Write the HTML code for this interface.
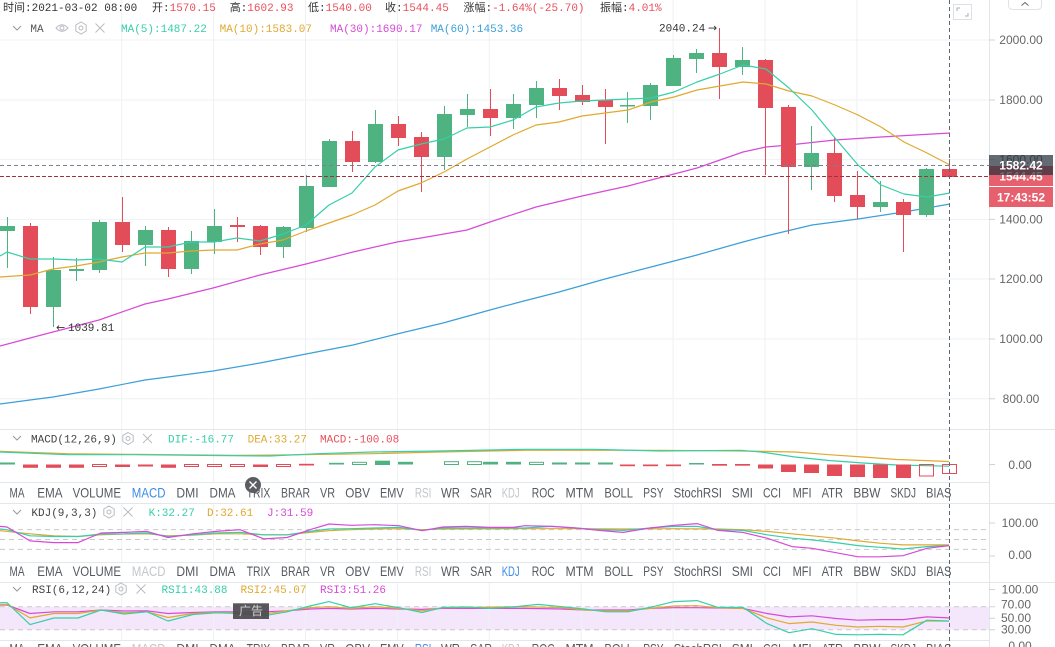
<!DOCTYPE html>
<html><head><meta charset="utf-8">
<style>
html,body{margin:0;padding:0;background:#fff;width:1055px;height:647px;overflow:hidden}
svg{display:block}
.m{font-family:"Liberation Mono","Noto Sans CJK SC",monospace;font-size:11px}
.s{font-family:"Liberation Sans","Noto Sans CJK SC",sans-serif}
.ax{font-family:"Liberation Sans",sans-serif;font-size:12px;fill:#666;text-anchor:middle}
.tb{font-family:"Liberation Sans",sans-serif;font-size:14px;fill:#555a60}
.tg{fill:#c3c6ca}
.tbl{fill:#3d8be8}
.ar{font-family:"DejaVu Sans",sans-serif;font-size:11px;fill:#333}
</style></head>
<body>
<svg width="1055" height="647" viewBox="0 0 1055 647" xmlns="http://www.w3.org/2000/svg">
<rect width="1055" height="647" fill="#fff"/>

<!-- RSI fill -->
<rect x="0" y="606.7" width="989" height="23" fill="#f4e7fc"/>

<!-- grid main -->
<g stroke="#eef1f4" stroke-width="1">
<line x1="0" y1="40" x2="989" y2="40"/>
<line x1="0" y1="100" x2="989" y2="100"/>
<line x1="0" y1="159.6" x2="989" y2="159.6"/>
<line x1="0" y1="219.4" x2="989" y2="219.4"/>
<line x1="0" y1="279" x2="989" y2="279"/>
<line x1="0" y1="339" x2="989" y2="339"/>
<line x1="0" y1="398.8" x2="989" y2="398.8"/>
</g>
<g stroke="#eef1f4" stroke-width="1">
<path d="M121.7 0V429M213.6 0V429M305.5 0V429M397.4 0V429M489.3 0V429M581.2 0V429M673.1 0V429M765 0V429M856.9 0V429"/>
<path d="M121.7 429V482M213.6 429V482M305.5 429V482M397.4 429V482M489.3 429V482M581.2 429V482M673.1 429V482M765 429V482M856.9 429V482"/>
<path d="M121.7 503V562M213.6 503V562M305.5 503V562M397.4 503V562M489.3 503V562M581.2 503V562M673.1 503V562M765 503V562M856.9 503V562"/>
<path d="M121.7 582V640M213.6 582V640M305.5 582V640M397.4 582V640M489.3 582V640M581.2 582V640M673.1 582V640M765 582V640M856.9 582V640"/>
</g>

<!-- separators -->
<g stroke="#e4e7ea" stroke-width="1">
<line x1="0" y1="429.5" x2="1055" y2="429.5"/>
<line x1="0" y1="482.5" x2="989" y2="482.5"/>
<line x1="0" y1="503.5" x2="1055" y2="503.5"/>
<line x1="0" y1="562.5" x2="989" y2="562.5"/>
<line x1="0" y1="582.5" x2="1055" y2="582.5"/>
<line x1="0" y1="640.5" x2="989" y2="640.5"/>
</g>

<!-- dashed level lines KDJ / RSI -->
<g stroke="#c9c9c9" stroke-width="1" stroke-dasharray="5,4">
<line x1="0" y1="529.6" x2="989" y2="529.6"/>
<line x1="0" y1="539.5" x2="989" y2="539.5"/>
<line x1="0" y1="549.4" x2="989" y2="549.4"/>
<line x1="0" y1="606.7" x2="989" y2="606.7"/>
<line x1="0" y1="629.7" x2="989" y2="629.7"/>
</g>

<!-- MA lines -->
<g fill="none" stroke-width="1.2" stroke-linejoin="round">
<polyline stroke="#3ba0d8" points="0,404 30,400 53,397 99,389 145,380 168,377 213,371 260,363 306,354 353,345 397,334 443,323 490,310 520,302 559,292 605,279 651,267 697,255 743,242 766,236 812,225 858,219 904,212 950,204"/>
<polyline stroke="#d64bd6" points="0,346 30,338 53,332 99,320 145,304 168,299 213,288 260,275 306,264 353,252 397,242 421,238 444,234 467,230 490,222 536,207 582,196 628,186 651,180 697,168 743,152 766,147 789,145 835,140 881,137 950,133"/>
</g>

<!-- candles -->
<g fill="#4eb281">
<rect x="7" y="217" width="1" height="51"/><rect x="0" y="226" width="15" height="5"/>
<rect x="53" y="257" width="1" height="70"/><rect x="46" y="270" width="15" height="37"/>
<rect x="76" y="258" width="1" height="23"/><rect x="69" y="269" width="15" height="2"/>
<rect x="99" y="220" width="1" height="53"/><rect x="92" y="222" width="15" height="48"/>
<rect x="145" y="226" width="1" height="40"/><rect x="138" y="230" width="15" height="15"/>
<rect x="191" y="231" width="1" height="43"/><rect x="184" y="241" width="15" height="28"/>
<rect x="214" y="209" width="1" height="45"/><rect x="207" y="226" width="15" height="16"/>
<rect x="283" y="226" width="1" height="32"/><rect x="276" y="227" width="15" height="20"/>
<rect x="306" y="175" width="1" height="57"/><rect x="299" y="186" width="15" height="42"/>
<rect x="329" y="139" width="1" height="48"/><rect x="322" y="141" width="15" height="46"/>
<rect x="375" y="110" width="1" height="53"/><rect x="368" y="124" width="15" height="38"/>
<rect x="444" y="106" width="1" height="64"/><rect x="437" y="114" width="15" height="43"/>
<rect x="467" y="94" width="1" height="33"/><rect x="460" y="109" width="15" height="6"/>
<rect x="513" y="94" width="1" height="35"/><rect x="506" y="104" width="15" height="14"/>
<rect x="536" y="81" width="1" height="37"/><rect x="529" y="88" width="15" height="17"/>
<rect x="627" y="92" width="1" height="31"/><rect x="620" y="105" width="15" height="1.5"/>
<rect x="650" y="83" width="1" height="37"/><rect x="643" y="85" width="15" height="21"/>
<rect x="673" y="55" width="1" height="31"/><rect x="666" y="58" width="15" height="28"/>
<rect x="696" y="49" width="1" height="24"/><rect x="689" y="53" width="15" height="6"/>
<rect x="742" y="47" width="1" height="28"/><rect x="735" y="60" width="15" height="7"/>
<rect x="811" y="126" width="1" height="64"/><rect x="804" y="153" width="15" height="14"/>
<rect x="880" y="181" width="1" height="31"/><rect x="873" y="202" width="15" height="5"/>
<rect x="926" y="168" width="1" height="49"/><rect x="919" y="169" width="15" height="46"/>
</g>
<g fill="#e34d59">
<rect x="30" y="223" width="1" height="91"/><rect x="23" y="226" width="15" height="81"/>
<rect x="122" y="197" width="1" height="55"/><rect x="115" y="222" width="15" height="23"/>
<rect x="168" y="227" width="1" height="50"/><rect x="161" y="230" width="15" height="39"/>
<rect x="237" y="217" width="1" height="25"/><rect x="230" y="225" width="15" height="2"/>
<rect x="260" y="225" width="1" height="30"/><rect x="253" y="226" width="15" height="21"/>
<rect x="352" y="131" width="1" height="41"/><rect x="345" y="141" width="15" height="21"/>
<rect x="398" y="116" width="1" height="30"/><rect x="391" y="124" width="15" height="14"/>
<rect x="421" y="132" width="1" height="60"/><rect x="414" y="137" width="15" height="20"/>
<rect x="490" y="89" width="1" height="47"/><rect x="483" y="109" width="15" height="9"/>
<rect x="559" y="79" width="1" height="31"/><rect x="552" y="88" width="15" height="8"/>
<rect x="582" y="85" width="1" height="20"/><rect x="575" y="95" width="15" height="7"/>
<rect x="605" y="89" width="1" height="55"/><rect x="598" y="100" width="15" height="7"/>
<rect x="719" y="28" width="1" height="71"/><rect x="712" y="53" width="15" height="14"/>
<rect x="765" y="59" width="1" height="116"/><rect x="758" y="60" width="15" height="48"/>
<rect x="788" y="105" width="1" height="129"/><rect x="781" y="107" width="15" height="60"/>
<rect x="834" y="138" width="1" height="64"/><rect x="827" y="153" width="15" height="43"/>
<rect x="857" y="171" width="1" height="48"/><rect x="850" y="195" width="15" height="12"/>
<rect x="903" y="199" width="1" height="53"/><rect x="896" y="202" width="15" height="13"/>
<rect x="949" y="159" width="1" height="19"/><rect x="942" y="169" width="15" height="8"/>
</g>

<g fill="none" stroke-width="1.2" stroke-linejoin="round">
<polyline stroke="#e0a930" points="0,277 30,275 53,269 76,266 99,262 122,257 145,253 168,253 191,251 214,250 237,250 260,244 283,240 306,231 329,223 352,215 375,205 398,191 421,183 444,172 467,159 490,147 513,135 536,125 559,122 582,116 605,113 628,110 651,102 674,97 697,90 720,86 743,82 766,84 789,91 812,96 835,105 858,115 881,127 904,142 927,153 950,165"/>
<polyline stroke="#36cfa9" points="0,256 7,252 30,259 53,259 76,260 99,259 122,262 145,247 168,247 191,242 214,242 237,238 260,241 283,234 306,225 329,205 352,193 375,167 398,150 421,144 444,139 467,128 490,127 513,120 536,107 559,103 582,101 605,100 628,99 651,98 674,92 697,82 720,74 743,65 766,69 789,88 812,110 835,138 858,165 881,185 904,194 927,197 950,193"/>
</g>

<!-- high/low labels -->
<text class="ar" x="56" y="331">←</text>
<text class="m" x="68" y="331" fill="#333">1039.81</text>
<text class="m" x="659" y="31.5" fill="#333">2040.24</text>
<text class="ar" x="708" y="31.5">→</text>

<!-- crosshair / price lines -->
<line x1="0" y1="165.5" x2="989" y2="165.5" stroke="#7a8290" stroke-width="1" stroke-dasharray="4,3"/>
<line x1="0" y1="176.5" x2="989" y2="176.5" stroke="#a4303a" stroke-width="1" stroke-dasharray="4,2"/>

<!-- MACD -->
<g fill="none" stroke-width="1.2">
<polyline stroke="#e0a930" points="0,451.4 68,453.7 135,454.4 236,455.4 304,454.7 372,453.7 439,452 525,450.3 660,450.3 741,451 795,452 829,454.7 863,457 897,459.5 949,461.5"/>
<polyline stroke="#36cfa9" points="0,452 68,454.7 135,454.7 203,455.4 270,456 318,453.7 372,452 439,451 525,449.3 593,449.3 660,451 741,450.3 761,452 795,457 829,460.5 863,463 897,465 949,466.2"/>
</g>
<g fill="#4eb281">
<rect x="0" y="462.5" width="15" height="2"/>
<rect x="375" y="460.8" width="15" height="3.7"/>
<rect x="398" y="461.8" width="15" height="2.7"/>
<rect x="483" y="461.8" width="15" height="2.7"/>
<rect x="506" y="461.8" width="15" height="2.7"/>
<rect x="552" y="462.5" width="15" height="2"/>
<rect x="575" y="462.5" width="15" height="2"/>
<rect x="598" y="462.5" width="15" height="2"/>
<rect x="689" y="463" width="15" height="1.5"/>
<rect x="329" y="462.8" width="15" height="1.7"/>
</g>
<g fill="none" stroke="#4eb281" stroke-width="1">
<rect x="352.5" y="462.3" width="14" height="2.2"/>
<rect x="375.5" y="461.3" width="14" height="3.2"/>
<rect x="444.5" y="461.7" width="14" height="2.8"/>
<rect x="467.5" y="461.7" width="14" height="2.8"/>
<rect x="529.5" y="462.3" width="14" height="2.2"/>
</g>
<g fill="#e34d59">
<rect x="23" y="464.5" width="15" height="3.3"/>
<rect x="46" y="464.5" width="15" height="3.3"/>
<rect x="69" y="464.5" width="15" height="3.3"/>
<rect x="115" y="464.5" width="15" height="2.5"/>
<rect x="138" y="464.5" width="15" height="2"/>
<rect x="161" y="464.5" width="15" height="3.3"/>
<rect x="253" y="464.5" width="15" height="2.5"/>
<rect x="299" y="463.8" width="15" height="1.7"/>
<rect x="620" y="464.5" width="15" height="1.7"/>
<rect x="643" y="464.5" width="15" height="1.7"/>
<rect x="666" y="464.5" width="15" height="1.7"/>
<rect x="712" y="464" width="15" height="1.7"/>
<rect x="735" y="464" width="15" height="1.7"/>
<rect x="758" y="464.5" width="15" height="4"/>
<rect x="781" y="464.5" width="15" height="7.5"/>
<rect x="804" y="464.5" width="15" height="8.5"/>
<rect x="827" y="464.5" width="15" height="11.5"/>
<rect x="850" y="464.5" width="15" height="12.5"/>
<rect x="873" y="464.5" width="15" height="13.5"/>
<rect x="896" y="464.5" width="15" height="13.5"/>
</g>
<g fill="none" stroke="#e34d59" stroke-width="1">
<rect x="92.5" y="464.5" width="14" height="2"/>
<rect x="184.5" y="464.5" width="14" height="2"/>
<rect x="207.5" y="464.5" width="14" height="2"/>
<rect x="230.5" y="464.5" width="14" height="2"/>
<rect x="276.5" y="464.5" width="14" height="2"/>
<rect x="919.5" y="464.5" width="14" height="11.5"/>
<rect x="942.5" y="464.5" width="14" height="9"/>
</g>

<!-- KDJ -->
<g fill="none" stroke-width="1.2" stroke-linejoin="round">
<polyline stroke="#e0a930" points="0,530.7 30,533.8 54,535.8 78,536.5 101,534.8 124,534 147,533.8 168,535.8 193,535.1 216,533.8 240,533.8 264,534.8 287,534.8 310,532.4 329,530.7 351,529.7 375,529 399,528.7 422,529.7 443,529 525,528.7 576,528.7 623,529 674,528.7 718,529 743,529.7 767,531.4 792,533.8 812,535.8 836,538.2 858,540.9 880,543.2 903,544.9 927,544.9 949,544.9"/>
<polyline stroke="#36cfa9" points="0,529 7,529.7 30,535.8 54,536.5 78,536.5 101,534 124,533.8 147,533 168,536.5 193,534.8 216,533 240,532.4 264,534.8 287,534.8 310,531.4 329,529 351,528.7 375,528 399,527.4 422,530.4 443,528 466,528 490,528 513,528 525,528 552,526.4 576,528 599,529.7 623,530.4 650,528 674,526.4 697,526.4 718,529.7 743,530.4 767,534.8 792,538.2 812,539.9 836,542.6 858,545.6 880,547.3 903,549 927,546.6 949,545.6"/>
<polyline stroke="#d64bd6" points="0,526.4 7,527 30,540.9 54,542.6 78,542.6 101,533 124,532.4 147,531.4 168,537.5 193,533.8 216,531.4 240,529.7 264,538.9 287,537.5 310,529.7 329,524 351,525.3 375,524.7 399,525.7 422,530.7 443,527 466,526.4 490,527.4 513,527.4 525,525.7 552,526.4 576,528 599,530.4 623,532.4 650,528 674,525.3 697,523.6 718,530.4 743,532.4 767,538.2 792,546.6 812,548.3 836,552.7 858,556.8 880,556.8 903,555.7 927,548.3 949,545.6"/>
</g>

<!-- RSI -->
<g fill="none" stroke-width="1.2" stroke-linejoin="round">
<polyline stroke="#d64bd6" points="0,605 7,605 30,613.5 54,611.8 78,611.8 101,610 124,611 147,610.8 168,613.5 193,612.5 216,611.8 264,611.8 287,610.8 310,609 329,608.4 351,609 375,608.4 399,609 422,609.4 443,608.4 525,608.4 562,609 584,610 628,610 650,608.4 674,607.7 697,607.7 743,608.4 767,613.5 789,616.9 812,615.8 836,618.5 858,620.2 880,619.6 903,619.6 927,616.9 949,617.9"/>
<polyline stroke="#e0a930" points="0,604.4 7,604.4 30,617.9 54,613.5 78,613.5 101,610 124,612.8 147,611.8 168,617.5 193,613.5 216,612.5 240,612.8 264,614 287,610.8 310,607.7 329,606.7 351,608.4 375,606.7 399,608.4 422,610.8 443,607.7 525,606.7 562,607.7 584,610 606,610.8 628,610.8 650,608.4 674,606 697,605.7 718,607.7 743,608.4 767,617.9 789,623.6 812,622 836,625.3 858,627 880,626.3 903,627 927,620.9 949,621.2"/>
<polyline stroke="#36cfa9" points="0,602.7 7,602.7 30,624.6 54,618 78,618 101,610 124,614 147,611.8 168,621 193,614.5 216,612.8 240,613.5 264,615.8 287,611.8 310,606 329,601.6 351,607.7 375,603.7 399,607.7 422,612.5 443,607.4 466,607 490,608.4 513,607 525,605.7 538,604.4 562,606.7 584,609 606,611.8 628,611.8 650,607.4 674,601.6 697,600.6 718,607.4 743,607.4 767,623.6 789,632.7 812,628.7 836,634.4 858,634.8 880,634.4 903,634.8 927,620.2 949,621"/>
</g>

<!-- ad label -->
<rect x="233" y="603.3" width="36" height="15.7" fill="#4a4a4c" fill-opacity="0.92"/>
<text x="251" y="615" font-size="12" fill="#d0d0d0" text-anchor="middle" font-family="Noto Sans CJK SC, sans-serif">广告</text>

<!-- crosshair vertical -->
<line x1="949.5" y1="0" x2="949.5" y2="647" stroke="#5f6775" stroke-width="1" stroke-dasharray="4,3"/>

<!-- right axis -->
<line x1="989.5" y1="0" x2="989.5" y2="647" stroke="#e3e6e9" stroke-width="1"/>
<g stroke="#cfd3d7" stroke-width="1">
<path d="M989 40H995M989 100H995M989 159.6H995M989 219.4H995M989 279H995M989 339H995M989 398.8H995M989 464.5H995M989 523H995M989 556H995M989 589.5H995M989 606.7H995M989 618.2H995M989 629.7H995"/>
</g>
<text class="ax" x="1021" y="44">2000.00</text>
<text class="ax" x="1021" y="104">1800.00</text>
<text class="ax" x="1021" y="163.6">1600.00</text>
<text class="ax" x="1021" y="223.4">1400.00</text>
<text class="ax" x="1021" y="283">1200.00</text>
<text class="ax" x="1021" y="343">1000.00</text>
<text class="ax" x="1021" y="402.8">800.00</text>
<text class="ax" x="1020" y="469">0.00</text>
<text class="ax" x="1020" y="527">100.00</text>
<text class="ax" x="1020" y="559">0.00</text>
<text class="ax" x="1020" y="593.5">100.00</text>
<text class="ax" x="1016" y="608.5">70.00</text>
<text class="ax" x="1016" y="622">50.00</text>
<text class="ax" x="1016" y="633.5">30.00</text>
<text class="ax" x="1020" y="650">0.00</text>

<!-- price boxes -->
<rect x="989" y="166" width="64" height="20" fill="#e6616d"/>
<text x="1021" y="180.5" font-family="Liberation Sans, sans-serif" font-size="12" font-weight="bold" fill="#fff" text-anchor="middle">1544.45</text>
<rect x="989" y="155" width="64" height="20" fill="#28303c" fill-opacity="0.72"/>
<text x="1021" y="169.5" font-family="Liberation Sans, sans-serif" font-size="12" font-weight="bold" fill="#fff" text-anchor="middle">1582.42</text>
<rect x="989" y="187" width="64" height="20" fill="#e6616d"/>
<text x="1021" y="201.5" font-family="Liberation Sans, sans-serif" font-size="12" font-weight="bold" fill="#fff" text-anchor="middle">17:43:52</text>

<!-- top right controls -->
<path d="M1008.5 0V5Q1008.5 9.5 1013 9.5H1037Q1041.5 9.5 1041.5 5V0" fill="#fff" stroke="#e0e3e6"/>
<path d="M1021.5 5.5L1025 2.5L1028.5 5.5" fill="none" stroke="#666" stroke-width="1"/>
<rect x="953.5" y="4.5" width="18" height="15" fill="#fff" stroke="#dde0e4"/>
<path d="M957 11V8H960M968 13V16H965" fill="none" stroke="#aab0b8" stroke-width="1"/>

<!-- header row 1 -->
<text class="m" x="3" y="11" fill="#333">时间:2021-03-02 08:00</text>
<text class="m" x="152" y="11" fill="#333">开:<tspan fill="#e8505b">1570.15</tspan></text>
<text class="m" x="229.7" y="11" fill="#333">高:<tspan fill="#e8505b">1602.93</tspan></text>
<text class="m" x="308" y="11" fill="#333">低:<tspan fill="#e8505b">1540.00</tspan></text>
<text class="m" x="385" y="11" fill="#333">收:<tspan fill="#e8505b">1544.45</tspan></text>
<text class="m" x="463.5" y="11" fill="#333">涨幅:<tspan fill="#e8505b">-1.64%(-25.70)</tspan></text>
<text class="m" x="600" y="11" fill="#333">振幅:<tspan fill="#e8505b">4.01%</tspan></text>

<!-- header row 2 (MA) -->
<path d="M13 26L17 30L21 26" fill="none" stroke="#999" stroke-width="1"/>
<text class="m" x="30.4" y="32" fill="#555">MA</text>
<g fill="none" stroke="#b8bcc2" stroke-width="1">
<path d="M56 28Q62 21.5 68 28Q62 34.5 56 28Z"/><circle cx="62" cy="28" r="2"/>
<path d="M81 22L86.2 25V31L81 34L75.8 31V25Z"/><circle cx="81" cy="28" r="2"/>
<path d="M95.5 23.5L104.5 32.5M104.5 23.5L95.5 32.5"/>
</g>
<text class="m" x="121" y="32" fill="#36cfa9">MA(5):1487.22</text>
<text class="m" x="219.6" y="32" fill="#e0a930">MA(10):1583.07</text>
<text class="m" x="330" y="32" fill="#d64bd6">MA(30):1690.17</text>
<text class="m" x="430.7" y="32" fill="#3ba0d8">MA(60):1453.36</text>

<!-- MACD header -->
<path d="M13 436L17 440L21 436" fill="none" stroke="#999" stroke-width="1"/>
<text class="m" x="31" y="442.5" fill="#444">MACD(12,26,9)</text>
<g fill="none" stroke="#b8bcc2" stroke-width="1">
<path d="M128 432.5L133.2 435.5V441.5L128 444.5L122.8 441.5V435.5Z"/><circle cx="128" cy="438.5" r="2"/>
<path d="M143 434L152 443M152 434L143 443"/>
</g>
<text class="m" x="168" y="442.5" fill="#36cfa9">DIF:-16.77</text>
<text class="m" x="247.6" y="442.5" fill="#e0a930">DEA:33.27</text>
<text class="m" x="320" y="442.5" fill="#e8505b">MACD:-100.08</text>

<!-- KDJ header -->
<path d="M13 510L17 514L21 510" fill="none" stroke="#999" stroke-width="1"/>
<text class="m" x="31.4" y="516" fill="#444">KDJ(9,3,3)</text>
<g fill="none" stroke="#b8bcc2" stroke-width="1">
<path d="M109 506L114.2 509V515L109 518L103.8 515V509Z"/><circle cx="109" cy="512" r="2"/>
<path d="M123.5 507.5L132.5 516.5M132.5 507.5L123.5 516.5"/>
</g>
<text class="m" x="148.6" y="516" fill="#36cfa9">K:32.27</text>
<text class="m" x="207" y="516" fill="#e0a930">D:32.61</text>
<text class="m" x="267" y="516" fill="#d64bd6">J:31.59</text>

<!-- RSI header -->
<path d="M13 587L17 591L21 587" fill="none" stroke="#999" stroke-width="1"/>
<text class="m" x="32" y="593" fill="#444">RSI(6,12,24)</text>
<g fill="none" stroke="#b8bcc2" stroke-width="1">
<path d="M121 583L126.2 586V592L121 595L115.8 592V586Z"/><circle cx="121" cy="589" r="2"/>
<path d="M136.5 584.5L145.5 593.5M145.5 584.5L136.5 593.5"/>
</g>
<text class="m" x="161.5" y="593" fill="#36cfa9">RSI1:43.88</text>
<text class="m" x="240.5" y="593" fill="#e0a930">RSI2:45.07</text>
<text class="m" x="320" y="593" fill="#d64bd6">RSI3:51.26</text>

<!-- tab row 1 -->
<g class="tb">
<text x="9.5" y="497.5" textLength="15" lengthAdjust="spacingAndGlyphs">MA</text>
<text x="37.2" y="497.5" textLength="25.3" lengthAdjust="spacingAndGlyphs">EMA</text>
<text x="72.6" y="497.5" textLength="48.4" lengthAdjust="spacingAndGlyphs">VOLUME</text>
<text x="131.8" y="497.5" textLength="33.7" lengthAdjust="spacingAndGlyphs" class="tbl">MACD</text>
<text x="176.4" y="497.5" textLength="22.2" lengthAdjust="spacingAndGlyphs">DMI</text>
<text x="209.5" y="497.5" textLength="26" lengthAdjust="spacingAndGlyphs">DMA</text>
<text x="246.6" y="497.5" textLength="23.7" lengthAdjust="spacingAndGlyphs">TRIX</text>
<text x="281" y="497.5" textLength="29" lengthAdjust="spacingAndGlyphs">BRAR</text>
<text x="320" y="497.5" textLength="15" lengthAdjust="spacingAndGlyphs">VR</text>
<text x="345.3" y="497.5" textLength="24.7" lengthAdjust="spacingAndGlyphs">OBV</text>
<text x="380" y="497.5" textLength="23.7" lengthAdjust="spacingAndGlyphs">EMV</text>
<text x="414.9" y="497.5" textLength="16.5" lengthAdjust="spacingAndGlyphs" class="tg">RSI</text>
<text x="441" y="497.5" textLength="19" lengthAdjust="spacingAndGlyphs">WR</text>
<text x="470.3" y="497.5" textLength="21.7" lengthAdjust="spacingAndGlyphs">SAR</text>
<text x="501.7" y="497.5" textLength="17.9" lengthAdjust="spacingAndGlyphs" class="tg">KDJ</text>
<text x="531.8" y="497.5" textLength="22.9" lengthAdjust="spacingAndGlyphs">ROC</text>
<text x="565.5" y="497.5" textLength="28.1" lengthAdjust="spacingAndGlyphs">MTM</text>
<text x="604.4" y="497.5" textLength="28.6" lengthAdjust="spacingAndGlyphs">BOLL</text>
<text x="643.2" y="497.5" textLength="20.3" lengthAdjust="spacingAndGlyphs">PSY</text>
<text x="673.6" y="497.5" textLength="48.4" lengthAdjust="spacingAndGlyphs">StochRSI</text>
<text x="731.8" y="497.5" textLength="21.2" lengthAdjust="spacingAndGlyphs">SMI</text>
<text x="763" y="497.5" textLength="18" lengthAdjust="spacingAndGlyphs">CCI</text>
<text x="792.6" y="497.5" textLength="18.9" lengthAdjust="spacingAndGlyphs">MFI</text>
<text x="821.6" y="497.5" textLength="21.4" lengthAdjust="spacingAndGlyphs">ATR</text>
<text x="853.4" y="497.5" textLength="27" lengthAdjust="spacingAndGlyphs">BBW</text>
<text x="890.5" y="497.5" textLength="25.5" lengthAdjust="spacingAndGlyphs">SKDJ</text>
<text x="926" y="497.5" textLength="25.4" lengthAdjust="spacingAndGlyphs">BIAS</text>
</g>

<!-- close circle -->
<circle cx="253" cy="485" r="8" fill="#5c5d60"/>
<path d="M249.5 481.5L256.5 488.5M256.5 481.5L249.5 488.5" stroke="#fff" stroke-width="1.4"/>

<!-- tab row 2 -->
<g class="tb">
<text x="9.5" y="576" textLength="15" lengthAdjust="spacingAndGlyphs">MA</text>
<text x="37.2" y="576" textLength="25.3" lengthAdjust="spacingAndGlyphs">EMA</text>
<text x="72.6" y="576" textLength="48.4" lengthAdjust="spacingAndGlyphs">VOLUME</text>
<text x="131.8" y="576" textLength="33.7" lengthAdjust="spacingAndGlyphs" class="tg">MACD</text>
<text x="176.4" y="576" textLength="22.2" lengthAdjust="spacingAndGlyphs">DMI</text>
<text x="209.5" y="576" textLength="26" lengthAdjust="spacingAndGlyphs">DMA</text>
<text x="246.6" y="576" textLength="23.7" lengthAdjust="spacingAndGlyphs">TRIX</text>
<text x="281" y="576" textLength="29" lengthAdjust="spacingAndGlyphs">BRAR</text>
<text x="320" y="576" textLength="15" lengthAdjust="spacingAndGlyphs">VR</text>
<text x="345.3" y="576" textLength="24.7" lengthAdjust="spacingAndGlyphs">OBV</text>
<text x="380" y="576" textLength="23.7" lengthAdjust="spacingAndGlyphs">EMV</text>
<text x="414.9" y="576" textLength="16.5" lengthAdjust="spacingAndGlyphs" class="tg">RSI</text>
<text x="441" y="576" textLength="19" lengthAdjust="spacingAndGlyphs">WR</text>
<text x="470.3" y="576" textLength="21.7" lengthAdjust="spacingAndGlyphs">SAR</text>
<text x="501.7" y="576" textLength="17.9" lengthAdjust="spacingAndGlyphs" class="tbl">KDJ</text>
<text x="531.8" y="576" textLength="22.9" lengthAdjust="spacingAndGlyphs">ROC</text>
<text x="565.5" y="576" textLength="28.1" lengthAdjust="spacingAndGlyphs">MTM</text>
<text x="604.4" y="576" textLength="28.6" lengthAdjust="spacingAndGlyphs">BOLL</text>
<text x="643.2" y="576" textLength="20.3" lengthAdjust="spacingAndGlyphs">PSY</text>
<text x="673.6" y="576" textLength="48.4" lengthAdjust="spacingAndGlyphs">StochRSI</text>
<text x="731.8" y="576" textLength="21.2" lengthAdjust="spacingAndGlyphs">SMI</text>
<text x="763" y="576" textLength="18" lengthAdjust="spacingAndGlyphs">CCI</text>
<text x="792.6" y="576" textLength="18.9" lengthAdjust="spacingAndGlyphs">MFI</text>
<text x="821.6" y="576" textLength="21.4" lengthAdjust="spacingAndGlyphs">ATR</text>
<text x="853.4" y="576" textLength="27" lengthAdjust="spacingAndGlyphs">BBW</text>
<text x="890.5" y="576" textLength="25.5" lengthAdjust="spacingAndGlyphs">SKDJ</text>
<text x="926" y="576" textLength="25.4" lengthAdjust="spacingAndGlyphs">BIAS</text>
</g>

<!-- tab row 3 (cut off) -->
<g class="tb">
<text x="9.5" y="653.5" textLength="15" lengthAdjust="spacingAndGlyphs">MA</text>
<text x="37.2" y="653.5" textLength="25.3" lengthAdjust="spacingAndGlyphs">EMA</text>
<text x="72.6" y="653.5" textLength="48.4" lengthAdjust="spacingAndGlyphs">VOLUME</text>
<text x="131.8" y="653.5" textLength="33.7" lengthAdjust="spacingAndGlyphs" class="tg">MACD</text>
<text x="176.4" y="653.5" textLength="22.2" lengthAdjust="spacingAndGlyphs">DMI</text>
<text x="209.5" y="653.5" textLength="26" lengthAdjust="spacingAndGlyphs">DMA</text>
<text x="246.6" y="653.5" textLength="23.7" lengthAdjust="spacingAndGlyphs">TRIX</text>
<text x="281" y="653.5" textLength="29" lengthAdjust="spacingAndGlyphs">BRAR</text>
<text x="320" y="653.5" textLength="15" lengthAdjust="spacingAndGlyphs">VR</text>
<text x="345.3" y="653.5" textLength="24.7" lengthAdjust="spacingAndGlyphs">OBV</text>
<text x="380" y="653.5" textLength="23.7" lengthAdjust="spacingAndGlyphs">EMV</text>
<text x="414.9" y="653.5" textLength="16.5" lengthAdjust="spacingAndGlyphs" class="tbl">RSI</text>
<text x="441" y="653.5" textLength="19" lengthAdjust="spacingAndGlyphs">WR</text>
<text x="470.3" y="653.5" textLength="21.7" lengthAdjust="spacingAndGlyphs">SAR</text>
<text x="501.7" y="653.5" textLength="17.9" lengthAdjust="spacingAndGlyphs" class="tg">KDJ</text>
<text x="531.8" y="653.5" textLength="22.9" lengthAdjust="spacingAndGlyphs">ROC</text>
<text x="565.5" y="653.5" textLength="28.1" lengthAdjust="spacingAndGlyphs">MTM</text>
<text x="604.4" y="653.5" textLength="28.6" lengthAdjust="spacingAndGlyphs">BOLL</text>
<text x="643.2" y="653.5" textLength="20.3" lengthAdjust="spacingAndGlyphs">PSY</text>
<text x="673.6" y="653.5" textLength="48.4" lengthAdjust="spacingAndGlyphs">StochRSI</text>
<text x="731.8" y="653.5" textLength="21.2" lengthAdjust="spacingAndGlyphs">SMI</text>
<text x="763" y="653.5" textLength="18" lengthAdjust="spacingAndGlyphs">CCI</text>
<text x="792.6" y="653.5" textLength="18.9" lengthAdjust="spacingAndGlyphs">MFI</text>
<text x="821.6" y="653.5" textLength="21.4" lengthAdjust="spacingAndGlyphs">ATR</text>
<text x="853.4" y="653.5" textLength="27" lengthAdjust="spacingAndGlyphs">BBW</text>
<text x="890.5" y="653.5" textLength="25.5" lengthAdjust="spacingAndGlyphs">SKDJ</text>
<text x="926" y="653.5" textLength="25.4" lengthAdjust="spacingAndGlyphs">BIAS</text>
</g>
</svg>
</body></html>
